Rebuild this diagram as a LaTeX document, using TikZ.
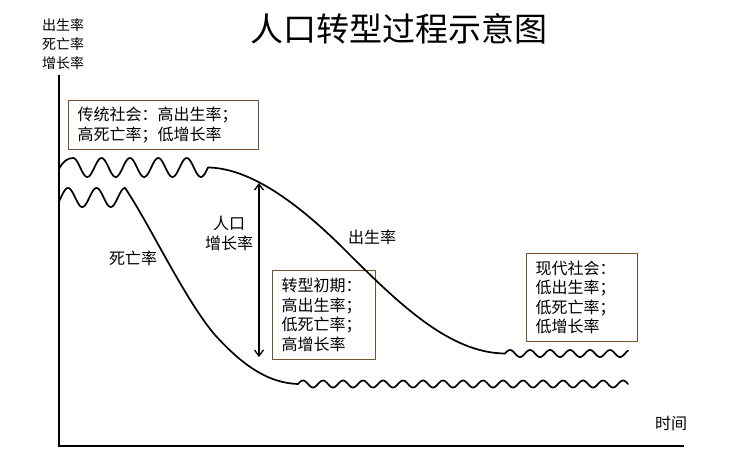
\documentclass[tikz,border=0pt]{standalone}
\usepackage{fontspec}
\setmainfont{Noto Sans CJK SC}
\usetikzlibrary{arrows.meta}
\definecolor{boxbrown}{RGB}{115,82,48}
\tikzset{
  curve/.style={line width=1.7pt, line join=round, line cap=round},
  axisline/.style={line width=1.6pt},
  infobox/.style={draw=boxbrown, line width=1pt, align=left, inner xsep=9pt, inner ysep=0pt,
    font=\fontsize{16}{19.5}\selectfont, anchor=north west},
  lbl/.style={inner sep=0pt, font=\fontsize{16}{20}\selectfont, align=center},
  gaparrow/.style={line width=1.3pt, {Straight Barb[length=6pt,width=9pt]}-{Straight Barb[length=6pt,width=9pt]}}
}
\begin{document}
\begin{tikzpicture}[x=1pt,y=-1pt]
\useasboundingbox[fill=white] (0,0) rectangle (738,467);
% title
\node[inner sep=0pt, font=\fontsize{33}{36}\selectfont] (title) at (398.5,29) {人口转型过程示意图};
% axes
\coordinate (ytop) at (59,75);
\coordinate (orig) at (59,446);
\coordinate (xend) at (684,446);
\draw[axisline] (ytop) -- (orig) -- (xend);
\node[inner sep=0pt, align=center, font=\fontsize{14}{19}\selectfont] (ylab) at (63,44) {出生率\\死亡率\\增长率};
\node[lbl] (xlab) at (671,423) {时间};
% info boxes
\node[infobox, text width=172pt, minimum height=49pt] (box1) at (68,100) {传统社会：高出生率；\\高死亡率；低增长率};
\node[infobox, text width=85pt, minimum height=89pt] (box2) at (272,270) {转型初期：\\高出生率；\\低死亡率；\\高增长率};
\node[infobox, text width=93pt, minimum height=88pt] (box3) at (526,253) {现代社会：\\低出生率；\\低死亡率；\\低增长率};
% birth rate
\draw[curve] (59,169) .. controls (63,161) and (68,158) .. (73.1,158)
  plot[domain=73.1:208, samples=120] (\x,{167.5-9.5*sin((\x-66)*12.676)});
\draw[curve] (208,167.5) .. controls (245,168) and (290,195) .. (345,250)
  .. controls (400,305) and (450,353) .. (505,353.5);
\draw[curve] plot[domain=505:628, samples=120] (\x,{353.5-3.5*sin((\x-505)*18)});
% death rate
\draw[curve] plot[domain=59:125.1, samples=80] (\x,{197.5-9.5*sin((\x-60.9)*12.6316)});
\draw[curve] (125.1,188) .. controls (150,225) and (185,300) .. (215,335)
  .. controls (245,368) and (270,383) .. (298,384);
\draw[curve] plot[domain=298:628, samples=300] (\x,{384-3.5*sin((\x-298)*18)});
% labels
\node[lbl] (blab) at (372,237) {出生率};
\node[lbl] (dlab) at (133,258) {死亡率};
\node[lbl] (glab) at (229,233) {人口\\增长率};
% growth arrow
\coordinate (atop) at (259,183);
\coordinate (abot) at (259,357);
\draw[gaparrow] (atop) -- (abot);
\end{tikzpicture}
\end{document}
